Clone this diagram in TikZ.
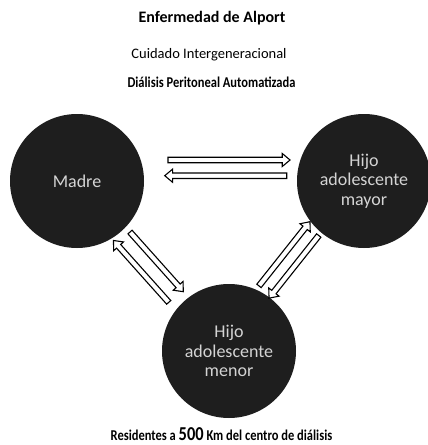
\documentclass[tikz,border=0pt]{standalone}
\usepackage{fontspec}
\setmainfont{Carlito}
\usetikzlibrary{calc}
\usetikzlibrary{shapes.arrows}

\definecolor{circfill}{HTML}{1E1E1E}
\definecolor{circtext}{HTML}{D4D4D4}

\tikzset{
    persona/.style={circle,fill=circfill,text=circtext,minimum size=134pt,inner sep=0pt,
        align=center,font=\fontsize{18}{19.5}\selectfont},
    flecha/.style={single arrow,draw=black,line width=1.1pt,fill=white,inner sep=2.2pt,
        single arrow head extend=3.8pt,single arrow tip angle=80,sloped},
}

\begin{document}
\begin{tikzpicture}[x=1pt,y=-1pt]
    \useasboundingbox (0,0) rectangle (428,445);
    \node[anchor=base,font=\bfseries\fontsize{16}{19}\selectfont] (titulo) at (212,22.7) {Enfermedad de Alport};
    \node[anchor=base,font=\fontsize{14.5}{17}\selectfont] (cuidado) at (209,58.3) {Cuidado Intergeneracional};
    \node[anchor=base,font=\bfseries\fontsize{12.5}{15}\selectfont] (dialisis) at (211.5,87.3)
        {\scalebox{1}[1.2]{Diálisis Peritoneal Automatizada}};

    \node[persona] (madre) at (77,181) {Madre};
    \node[persona] (mayor) at (364,181) {Hijo\\adolescente\\mayor};
    \node[persona] (menor) at (229,351) {Hijo\\adolescente\\menor};

    % madre <-> mayor
    \path ($(madre.center)!21pt!90:(mayor.center)$) -- ($(mayor.center)!21pt!-90:(madre.center)$)
        node[flecha,pos=0.524,minimum height=122pt] {};
    \path ($(madre.center)!5.3pt!90:(mayor.center)$) -- ($(mayor.center)!5.3pt!-90:(madre.center)$)
        node[flecha,pos=0.524,minimum height=122pt,rotate=180] {};
    % madre <-> menor
    \path ($(madre.center)!5.5pt!90:(menor.center)$) -- ($(menor.center)!5.5pt!-90:(madre.center)$)
        node[flecha,pos=0.49,minimum height=80pt] {};
    \path ($(madre.center)!12.5pt!-90:(menor.center)$) -- ($(menor.center)!12.5pt!90:(madre.center)$)
        node[flecha,pos=0.49,minimum height=83pt,rotate=180] {};
    % menor <-> mayor
    \path ($(menor.center)!17pt!90:(mayor.center)$) -- ($(mayor.center)!17pt!-90:(menor.center)$)
        node[flecha,pos=0.502,minimum height=82pt] {};
    \path ($(menor.center)!1.5pt!90:(mayor.center)$) -- ($(mayor.center)!1.5pt!-90:(menor.center)$)
        node[flecha,pos=0.497,minimum height=80pt,rotate=180] {};

    \node[anchor=base,inner sep=0pt,font=\bfseries\fontsize{12.5}{15}\selectfont] (residentes) at (221.5,440.5)
        {\scalebox{1}[1.2]{Residentes a {\fontsize{16.4}{19}\selectfont 500} Km del centro de diálisis}};
\end{tikzpicture}
\end{document}
